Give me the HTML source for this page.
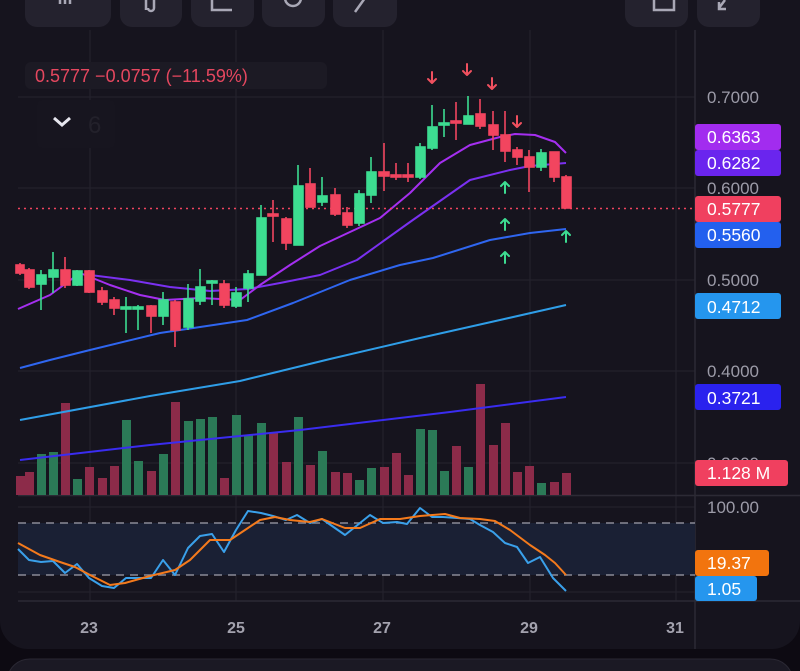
<!DOCTYPE html>
<html><head><meta charset="utf-8"><style>
html,body{margin:0;padding:0;background:#0d0a12;width:800px;height:671px;overflow:hidden;font-family:"Liberation Sans",sans-serif}
svg{display:block}
</style></head><body>
<svg width="800" height="671" viewBox="0 0 800 671" xmlns="http://www.w3.org/2000/svg" font-family="Liberation Sans, sans-serif">
<rect x="0" y="-30" width="800" height="679" rx="28" fill="#16141e"/>
<rect x="8" y="659" width="784" height="40" rx="22" fill="#1b1924" stroke="#2a2833"/>
<g fill="#24222e">
<rect x="25" y="-20" width="86" height="47" rx="12"/>
<rect x="120" y="-20" width="62" height="47" rx="12"/>
<rect x="191" y="-20" width="63" height="47" rx="12"/>
<rect x="262" y="-20" width="63" height="47" rx="12"/>
<rect x="333" y="-20" width="64" height="47" rx="12"/>
<rect x="625" y="-20" width="63" height="47" rx="12"/>
<rect x="697" y="-20" width="63" height="47" rx="12"/>
</g>
<g stroke="#a9a8b6" stroke-width="2.5" fill="none">
<path d="M60 0v4M65 0v4M70 0v4"/>
<path d="M146 0v10M154 0v8a3 3 0 0 1-6 0"/>
<path d="M212 0v10h20"/>
<circle cx="293" cy="-2" r="8"/>
<path d="M355 12l10-14"/>
<path d="M654 0v10h20v-10"/>
<path d="M725 0l-6 8M719 2v7h7"/>
</g>
<g stroke="#25232e" stroke-width="1">
<path d="M18 97H695M18 188H695M18 280H695M18 371H695M18 463H695M18 507H695M18 592H695"/>
<path d="M90 30V601M236 30V601M383 30V601M530 30V601M676 30V601"/>
</g>
<path d="M18 495.5H800M18 601H800" stroke="#2c2a35" stroke-width="1.5"/>
<path d="M695 30V649" stroke="#2c2a35" stroke-width="1.5"/>
<rect x="18" y="523" width="677" height="52" fill="#1a2034"/>
<path d="M18 523H695M18 575H695" stroke="#8a8a96" stroke-width="1.5" stroke-dasharray="8 6"/>
<g fill="#8c2b49">
<rect x="16" y="476" width="9" height="19"/><rect x="25" y="472" width="9" height="23"/>
<rect x="61" y="403" width="9" height="92"/><rect x="85" y="467" width="9" height="28"/>
<rect x="98" y="478" width="9" height="17"/><rect x="110" y="466" width="9" height="29"/>
<rect x="147" y="471" width="9" height="24"/><rect x="171" y="402" width="9" height="93"/>
<rect x="220" y="478" width="9" height="17"/><rect x="269" y="433" width="9" height="62"/>
<rect x="282" y="462" width="9" height="33"/><rect x="306" y="465" width="9" height="30"/>
<rect x="331" y="472" width="9" height="23"/><rect x="343" y="473" width="9" height="22"/>
<rect x="380" y="467" width="9" height="28"/><rect x="392" y="453" width="9" height="42"/>
<rect x="404" y="475" width="9" height="20"/><rect x="452" y="446" width="9" height="49"/>
<rect x="476" y="384" width="9" height="111"/><rect x="489" y="445" width="9" height="50"/>
<rect x="501" y="423" width="9" height="72"/><rect x="513" y="472" width="9" height="23"/>
<rect x="525" y="466" width="9" height="29"/><rect x="550" y="482" width="9" height="13"/>
<rect x="562" y="473" width="9" height="22"/>
</g>
<g fill="#2b7a57">
<rect x="37" y="454" width="9" height="41"/><rect x="49" y="452" width="9" height="43"/>
<rect x="73" y="479" width="9" height="16"/><rect x="122" y="420" width="9" height="75"/>
<rect x="134" y="461" width="9" height="34"/><rect x="159" y="454" width="9" height="41"/>
<rect x="184" y="421" width="9" height="74"/><rect x="196" y="419" width="9" height="76"/>
<rect x="208" y="417" width="9" height="78"/><rect x="232" y="415" width="9" height="80"/>
<rect x="244" y="435" width="9" height="60"/><rect x="257" y="423" width="9" height="72"/>
<rect x="294" y="417" width="9" height="78"/><rect x="318" y="451" width="9" height="44"/>
<rect x="355" y="480" width="9" height="15"/><rect x="367" y="468" width="9" height="27"/>
<rect x="416" y="429" width="9" height="66"/><rect x="428" y="430" width="9" height="65"/>
<rect x="440" y="471" width="9" height="24"/><rect x="464" y="467" width="9" height="28"/>
<rect x="537" y="483" width="9" height="12"/>
</g>
<g fill="none" stroke-width="2" stroke-linejoin="round">
<path d="M20 460 L150 445 L300 430 L450 412 L566 397" stroke="#3a2cf0"/>
<path d="M20 420 L150 396 L240 381 L330 359 L420 338 L500 320 L566 305" stroke="#2f9ee8"/>
<path d="M20 368 L50 360 L90 350 L160 333 L247 320 L293 303 L350 280 L400 265 L433 258 L490 240 L530 233 L566 229" stroke="#2f66f0"/>
<path d="M90 275 L130 280 L170 287 L210 291 L248 289 L280 283 L320 275 L357 260 L410 222 L470 180 L510 170 L530 166 L566 163" stroke="#7a30f0"/>
<path d="M18 309 L50 295 L80 273 L110 285 L140 295 L165 300 L200 298 L240 300 L260 285 L290 265 L320 246 L350 232 L380 218 L410 193 L440 163 L470 145 L500 137 L515 134 L535 135 L555 142 L566 153" stroke="#a52ff0"/>
</g>
<path d="M18 208.5H695" stroke="#f0445f" stroke-width="1.5" stroke-dasharray="2 4"/>
<g stroke-width="1.6">
<g stroke="#f2455f" fill="#f2455f">
<line x1="20" y1="263" x2="20" y2="275"/><rect x="16" y="265" width="8" height="8"/>
<line x1="29" y1="268" x2="29" y2="289"/><rect x="25" y="270" width="9" height="17"/>
<line x1="65" y1="257" x2="65" y2="288"/><rect x="61" y="270" width="9" height="15"/>
<line x1="89" y1="270" x2="89" y2="293"/><rect x="85" y="271" width="9" height="21"/>
<line x1="102" y1="287" x2="102" y2="305"/><rect x="98" y="291" width="9" height="11"/>
<line x1="114" y1="297" x2="114" y2="315"/><rect x="110" y="300" width="9" height="8"/>
<line x1="151" y1="305" x2="151" y2="333"/><rect x="147" y="306" width="9" height="10"/>
<line x1="175" y1="300" x2="175" y2="347"/><rect x="171" y="302" width="9" height="28"/>
<line x1="224" y1="280" x2="224" y2="308"/><rect x="220" y="284" width="9" height="21"/>
<line x1="273" y1="200" x2="273" y2="242"/><rect x="268" y="214" width="10" height="2"/>
<line x1="286" y1="217" x2="286" y2="250"/><rect x="282" y="219" width="9" height="24"/>
<line x1="310" y1="168" x2="310" y2="207"/><rect x="306" y="184" width="9" height="23"/>
<line x1="335" y1="188" x2="335" y2="216"/><rect x="331" y="195" width="9" height="19"/>
<line x1="347" y1="207" x2="347" y2="228"/><rect x="343" y="213" width="9" height="12"/>
<line x1="384" y1="143" x2="384" y2="191"/><rect x="379" y="172" width="10" height="4"/>
<line x1="396" y1="163" x2="396" y2="180"/><rect x="391" y="175" width="10" height="2"/>
<line x1="408" y1="163" x2="408" y2="182"/><rect x="403" y="175" width="10" height="2"/>
<line x1="456" y1="102" x2="456" y2="140"/><rect x="451" y="121" width="10" height="2"/>
<line x1="480" y1="99" x2="480" y2="129"/><rect x="476" y="114" width="9" height="12"/>
<line x1="493" y1="111" x2="493" y2="150"/><rect x="489" y="125" width="9" height="10"/>
<line x1="505" y1="111" x2="505" y2="162"/><rect x="501" y="135" width="9" height="16"/>
<line x1="517" y1="147" x2="517" y2="165"/><rect x="513" y="150" width="9" height="7"/>
<line x1="529" y1="150" x2="529" y2="192"/><rect x="525" y="157" width="9" height="10"/>
<line x1="554" y1="152" x2="554" y2="182"/><rect x="550" y="152" width="9" height="25"/>
<line x1="566" y1="175" x2="566" y2="208"/><rect x="562" y="177" width="9" height="31"/>
</g>
<g stroke="#3ddc91" fill="#3ddc91">
<line x1="41" y1="270" x2="41" y2="310"/><rect x="37" y="275" width="9" height="9"/>
<line x1="53" y1="252" x2="53" y2="293"/><rect x="49" y="270" width="9" height="7"/>
<line x1="77" y1="270" x2="77" y2="286"/><rect x="73" y="271" width="9" height="14"/>
<line x1="126" y1="297" x2="126" y2="333"/><rect x="121" y="307" width="10" height="2"/>
<line x1="138" y1="305" x2="138" y2="330"/><rect x="133" y="307" width="10" height="2"/>
<line x1="163" y1="292" x2="163" y2="325"/><rect x="159" y="300" width="9" height="16"/>
<line x1="188" y1="284" x2="188" y2="330"/><rect x="184" y="299" width="9" height="28"/>
<line x1="200" y1="269" x2="200" y2="305"/><rect x="196" y="287" width="9" height="14"/>
<line x1="212" y1="280" x2="212" y2="305"/><rect x="207" y="281" width="10" height="2"/>
<line x1="236" y1="287" x2="236" y2="308"/><rect x="232" y="293" width="9" height="13"/>
<line x1="248" y1="270" x2="248" y2="302"/><rect x="244" y="274" width="9" height="14"/>
<line x1="261" y1="205" x2="261" y2="275"/><rect x="257" y="218" width="9" height="57"/>
<line x1="298" y1="165" x2="298" y2="245"/><rect x="294" y="186" width="9" height="59"/>
<line x1="322" y1="177" x2="322" y2="206"/><rect x="318" y="196" width="9" height="6"/>
<line x1="359" y1="190" x2="359" y2="226"/><rect x="355" y="194" width="9" height="29"/>
<line x1="371" y1="157" x2="371" y2="203"/><rect x="367" y="172" width="9" height="23"/>
<line x1="420" y1="143" x2="420" y2="179"/><rect x="416" y="147" width="9" height="30"/>
<line x1="432" y1="105" x2="432" y2="150"/><rect x="428" y="127" width="9" height="21"/>
<line x1="444" y1="109" x2="444" y2="137"/><rect x="439" y="123" width="10" height="2"/>
<line x1="468" y1="96" x2="468" y2="124"/><rect x="464" y="116" width="9" height="8"/>
<line x1="541" y1="149" x2="541" y2="171"/><rect x="537" y="153" width="9" height="14"/>
</g>
</g>
<g fill="none" stroke-width="2" stroke-linecap="round" stroke-linejoin="round">
<g stroke="#f0505f">
<path d="M432 72v11M428 79l4 4 4-4"/>
<path d="M467 64v11M463 71l4 4 4-4"/>
<path d="M492 78v11M488 85l4 4 4-4"/>
<path d="M517 116v11M513 123l4 4 4-4"/>
</g>
<g stroke="#3ddc91">
<path d="M505 193v-11M501 186l4-4 4 4"/>
<path d="M505 230v-11M501 223l4-4 4 4"/>
<path d="M505 263v-11M501 256l4-4 4 4"/>
<path d="M566 242v-11M562 235l4-4 4 4"/>
</g>
</g>
<g fill="none" stroke-width="2" stroke-linejoin="round">
<path d="M18 549 L29 560 L41 562 L53 561 L65 573 L77 564 L89 578 L102 586 L114 588 L126 578 L138 578 L151 578 L163 560 L175 575 L188 548 L200 536 L212 534 L224 552 L236 530 L248 511 L261 513 L273 516 L286 520 L297 515 L310 523 L322 519 L345 535 L370 515 L383 523 L397 522 L407 524 L420 508 L432 517 L443 517 L457 518 L470 519 L480 525 L493 532 L505 543 L517 547 L528 563 L540 557 L553 578 L566 591" stroke="#3aa0ea"/>
<path d="M18 543 L40 555 L60 562 L75 567 L90 575 L110 585 L125 583 L150 576 L175 570 L190 560 L210 540 L230 540 L245 530 L260 520 L275 517 L290 520 L310 522 L322 519 L345 528 L360 528 L380 519 L400 519 L420 516 L445 514 L460 518 L480 519 L495 521 L510 530 L530 545 L545 555 L555 563 L566 575" stroke="#f47a1c"/>
</g>
<rect x="25" y="62" width="302" height="27" rx="6" fill="#1c1a24"/>
<text x="35" y="82" font-size="18" fill="#e5475f">0.5777  −0.0757 (−11.59%)</text>
<rect x="37" y="100" width="78" height="48" rx="5" fill="#17151f"/>
<path d="M54 118l8 7 8-7" stroke="#e6e6ee" stroke-width="3" fill="none"/>
<text x="88" y="133" font-size="24" fill="#23212b">6</text>
<g font-size="17" fill="#9c9ba8">
<text x="707" y="103">0.7000</text><text x="707" y="194">0.6000</text>
<text x="707" y="286">0.5000</text><text x="707" y="377">0.4000</text>
<text x="707" y="469">0.3000</text><text x="707" y="513">100.00</text>
</g>
<g font-size="16" fill="#a3a2ae" font-weight="bold" text-anchor="middle">
<text x="89" y="633">23</text><text x="236" y="633">25</text><text x="382" y="633">27</text><text x="529" y="633">29</text><text x="675" y="633">31</text>
</g>
<g font-size="17.5" fill="#ffffff">
<rect x="695" y="124" width="86" height="26" rx="3" fill="#a22cef"/><text x="707" y="143">0.6363</text>
<rect x="695" y="150" width="86" height="26" rx="3" fill="#6a25ee"/><text x="707" y="169">0.6282</text>
<rect x="695" y="196" width="86" height="26" rx="3" fill="#f0405f"/><text x="707" y="215">0.5777</text>
<rect x="695" y="222" width="86" height="26" rx="3" fill="#2360ee"/><text x="707" y="241">0.5560</text>
<rect x="695" y="293" width="86" height="26" rx="3" fill="#2596ee"/><text x="707" y="313">0.4712</text>
<rect x="695" y="384" width="86" height="26" rx="3" fill="#2a22ee"/><text x="707" y="404">0.3721</text>
<rect x="695" y="460" width="93" height="26" rx="3" fill="#f0405f"/><text x="707" y="479">1.128 M</text>
<rect x="695" y="550" width="74" height="26" rx="3" fill="#f2740e"/><text x="707" y="569">19.37</text>
<rect x="695" y="576" width="62" height="25" rx="3" fill="#2596ee"/><text x="707" y="595">1.05</text>
</g>
</svg>
</body></html>
